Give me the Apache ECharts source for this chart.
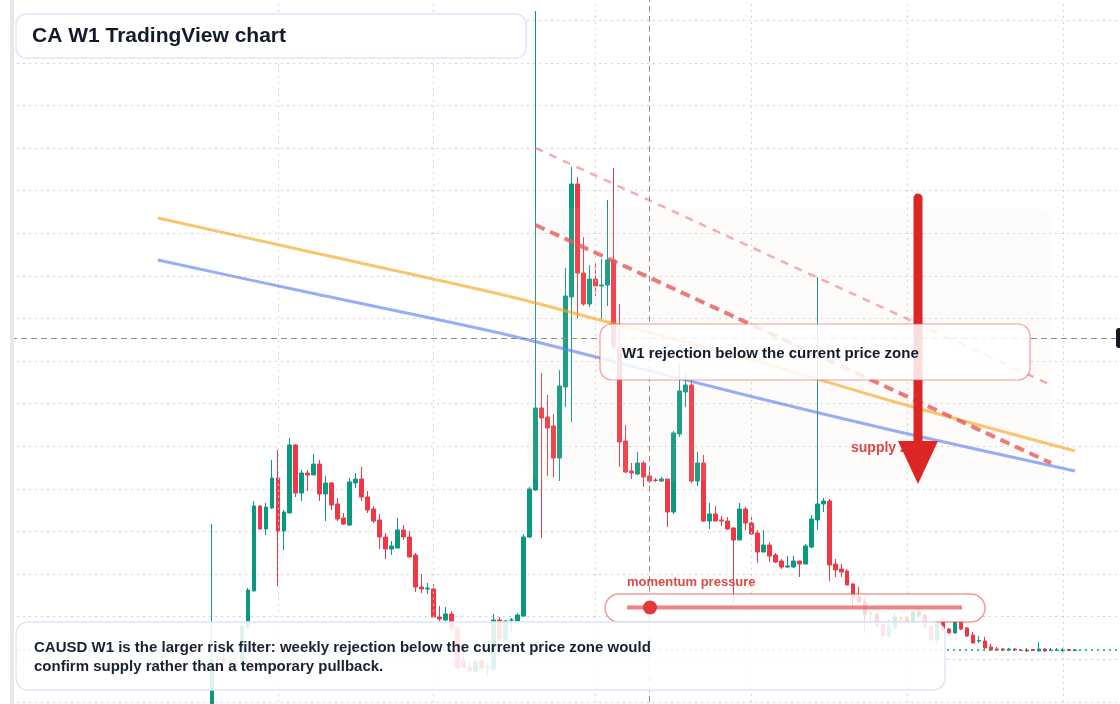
<!DOCTYPE html>
<html>
<head>
<meta charset="utf-8">
<script src="https://cdn.jsdelivr.net/npm/echarts@6.0.0/dist/echarts.min.js"></script>
<style>
  html, body { margin: 0; padding: 0; background: #ffffff; }
  #chart { width: 1120px; height: 704px; }
</style>
</head>
<body>
<div id="chart"></div>
<script>
// Weekly CAUSD candles
const open = [
  0.47, 1.27, 1.29, 1.25, 1.25, 1.22, 1.60, 1.96, 2.81, 2.58,
  2.79, 3.09, 2.56, 2.74, 3.42, 2.94, 3.14, 3.12, 3.23, 2.93,
  3.04, 2.83, 2.69, 2.62, 3.04, 3.08, 2.90, 2.78, 2.67, 2.50,
  2.38, 2.39, 2.57, 2.50, 2.32, 2.00, 1.98, 1.98, 1.70, 1.67,
  1.73, 1.59, 1.26, 1.20, 1.16, 1.26, 1.20, 1.18, 1.67, 1.48,
  1.67, 1.66, 1.71, 2.50, 2.97, 3.79, 3.70, 3.61, 3.29, 4.00,
  4.90, 6.03, 5.14, 4.83, 5.08, 5.01, 5.02, 5.27, 4.40, 3.46,
  3.16, 3.13, 3.24, 3.11, 3.07, 3.06, 3.08, 2.75, 3.53, 3.95,
  4.02, 3.06, 3.24, 2.66, 2.73, 2.67, 2.66, 2.59, 2.47, 2.78,
  2.64, 2.54, 2.35, 2.42, 2.32, 2.26, 2.20, 2.20, 2.26, 2.23,
  2.40, 2.67, 2.83, 2.86, 2.23, 2.18, 2.16, 2.03, 1.90, 1.85,
  1.74, 1.73, 1.63, 1.51, 1.59, 1.69, 1.70, 1.65, 1.75, 1.72,
  1.61, 1.47, 1.65, 1.58, 1.54, 1.65, 1.59, 1.52, 1.46, 1.46,
  1.40, 1.38, 1.38, 1.37, 1.38, 1.37, 1.37, 1.375, 1.36, 1.38,
  1.365, 1.365, 1.365, 1.375, 1.365
];
const close = [
  1.27, 1.28, 1.24, 1.25, 1.21, 1.61, 1.97, 2.81, 2.58, 2.80,
  3.09, 2.56, 2.75, 3.42, 2.94, 3.14, 3.12, 3.23, 2.93, 3.04,
  2.82, 2.68, 2.63, 3.05, 3.08, 2.90, 2.77, 2.66, 2.50, 2.38,
  2.41, 2.57, 2.50, 2.30, 2.00, 1.98, 1.99, 1.70, 1.68, 1.73,
  1.58, 1.19, 1.20, 1.16, 1.25, 1.19, 1.20, 1.67, 1.48, 1.66,
  1.67, 1.72, 2.50, 2.98, 3.79, 3.69, 3.59, 3.29, 4.01, 4.91,
  6.03, 5.14, 4.83, 5.08, 5.01, 5.02, 5.27, 4.40, 3.45, 3.15,
  3.14, 3.24, 3.10, 3.06, 3.065, 3.08, 2.75, 3.54, 3.96, 4.02,
  3.06, 3.24, 2.66, 2.73, 2.66, 2.66, 2.58, 2.47, 2.78, 2.64,
  2.53, 2.35, 2.42, 2.31, 2.25, 2.20, 2.21, 2.26, 2.23, 2.41,
  2.68, 2.83, 2.86, 2.22, 2.17, 2.15, 2.02, 1.90, 1.85, 1.72,
  1.74, 1.62, 1.51, 1.60, 1.70, 1.69, 1.65, 1.75, 1.71, 1.60,
  1.47, 1.64, 1.57, 1.54, 1.65, 1.58, 1.51, 1.44, 1.465, 1.39,
  1.37, 1.37, 1.37, 1.38, 1.37, 1.365, 1.36, 1.365, 1.38, 1.36,
  1.37, 1.37, 1.37, 1.365, 1.37
];
const low = [
  0.37, 1.22, 1.22, 1.21, 1.19, 1.21, 1.59, 1.96, 2.57, 2.52,
  2.78, 2.01, 2.37, 2.74, 2.90, 2.86, 2.96, 3.12, 2.86, 2.66,
  2.77, 2.66, 2.62, 2.61, 2.99, 2.86, 2.74, 2.64, 2.38, 2.28,
  2.32, 2.39, 2.47, 2.30, 1.95, 1.94, 1.93, 1.69, 1.65, 1.66,
  1.55, 1.17, 1.19, 1.15, 1.15, 1.18, 1.12, 1.17, 1.46, 1.47,
  1.55, 1.65, 1.70, 2.49, 2.96, 2.49, 3.11, 3.10, 3.06, 3.80,
  3.65, 4.69, 4.81, 4.80, 4.91, 4.68, 4.81, 4.37, 3.20, 3.14,
  3.08, 3.12, 3.00, 3.04, 3.05, 3.05, 2.60, 2.73, 3.50, 3.80,
  3.04, 3.01, 2.65, 2.58, 2.66, 2.61, 2.57, 1.84, 2.47, 2.57,
  2.52, 2.24, 2.35, 2.25, 2.24, 2.18, 2.19, 2.19, 2.10, 2.23,
  2.39, 2.57, 2.75, 2.06, 2.10, 2.10, 2.02, 1.79, 1.84, 1.54,
  1.67, 1.60, 1.50, 1.50, 1.58, 1.64, 1.64, 1.64, 1.70, 1.59,
  1.46, 1.43, 1.56, 1.54, 1.54, 1.57, 1.50, 1.44, 1.44, 1.38,
  1.36, 1.36, 1.36, 1.36, 1.36, 1.36, 1.35, 1.36, 1.36, 1.35,
  1.36, 1.36, 1.35, 1.36, 1.36
];
const high = [
  2.63, 1.32, 1.35, 1.31, 1.30, 1.63, 1.99, 2.86, 2.82, 2.84,
  3.27, 3.37, 2.77, 3.49, 3.43, 3.17, 3.17, 3.33, 3.27, 3.11,
  3.05, 2.89, 2.74, 3.09, 3.14, 3.20, 2.96, 2.81, 2.73, 2.54,
  2.46, 2.69, 2.62, 2.56, 2.34, 2.13, 2.04, 2.03, 1.81, 1.80,
  1.76, 1.62, 1.37, 1.26, 1.27, 1.28, 1.24, 1.73, 1.70, 1.67,
  1.69, 1.74, 2.53, 3.00, 7.76, 4.14, 3.92, 3.73, 4.17, 5.19,
  6.20, 6.10, 5.50, 5.22, 5.24, 5.28, 5.87, 6.19, 4.83, 3.62,
  3.24, 3.35, 3.26, 3.15, 3.09, 3.10, 3.08, 3.56, 4.24, 4.14,
  4.07, 3.35, 3.32, 2.84, 2.81, 2.71, 2.70, 2.60, 2.84, 2.80,
  2.70, 2.57, 2.57, 2.45, 2.34, 2.28, 2.31, 2.31, 2.26, 2.43,
  2.72, 5.10, 2.89, 2.88, 2.28, 2.23, 2.18, 2.04, 2.00, 1.90,
  1.75, 1.74, 1.65, 1.68, 1.74, 1.72, 1.71, 1.76, 1.82, 1.73,
  1.62, 1.67, 1.66, 1.59, 1.66, 1.66, 1.60, 1.55, 1.51, 1.50,
  1.43, 1.40, 1.39, 1.39, 1.39, 1.38, 1.39, 1.38, 1.45, 1.39,
  1.39, 1.39, 1.39, 1.38, 1.38
];

// week index of the first candle on the category axis
const firstWeek = 33;
const weekCount = 185;

// overlay averages: [week index, price]
const slowAvg = [[24, 5.69], [48, 5.37], [81, 4.93], [99, 4.65], [122, 4.29], [147, 3.85], [177, 3.36]];
const fastAvg = [[24, 5.27], [48, 4.96], [81, 4.54], [99, 4.27], [122, 3.92], [147, 3.56], [177, 3.16]];

// descending trend lines from the spike high
const upperTrend = [[87, 6.39], [173, 4.02]];
const lowerTrend = [[87, 5.62], [173, 3.24]];

// crosshair and half-year grid weeks
const crossWeek = 106;
const crossPrice = 4.49;
const gridWeeks = [44, 70, 97, 123, 149, 175];

const UP = '#089981';
const DOWN = '#f23645';
const FONT = '"Liberation Sans", Arial, sans-serif';

const weeks = [];
const start = Date.UTC(2021, 2, 1);
for (let i = 0; i < weekCount; i++) {
  weeks.push(new Date(start + i * 7 * 864e5).toISOString().slice(0, 10));
}

const candles = weeks.map((w, i) => {
  const k = i - firstWeek;
  return k >= 0 && k < open.length ? [open[k], close[k], low[k], high[k]] : '-';
});

const chart = echarts.init(document.getElementById('chart'));

chart.setOption({
  animation: false,
  backgroundColor: '#ffffff',
  grid: { left: 11, right: 0, top: 0, bottom: 2.2 },
  xAxis: {
    type: 'category',
    data: weeks,
    boundaryGap: true,
    axisLine: { show: false },
    axisTick: { show: false },
    axisLabel: { show: false },
    splitLine: { show: false }
  },
  yAxis: {
    type: 'value',
    min: 0.852,
    max: 7.87,
    interval: 0.426,
    axisLine: { show: false },
    axisTick: { show: false },
    axisLabel: { show: false },
    splitLine: {
      show: true,
      showMaxLine: false,
      lineStyle: { color: '#d4d4d4', type: [2, 4], width: 1 }
    }
  },
  series: [
    {
      // vertical grid lines
      type: 'line',
      data: [],
      z: 1,
      silent: true,
      markLine: {
        silent: true,
        symbol: 'none',
        label: { show: false },
        lineStyle: { color: '#d4d4d4', type: [2, 4], width: 1 },
        data: gridWeeks.map((i) => ({ xAxis: weeks[i] }))
      }
    },
    {
      type: 'candlestick',
      data: candles,
      barWidth: 4,
      clip: false,
      z: 2,
      itemStyle: {
        color: UP,
        color0: DOWN,
        borderColor: UP,
        borderColor0: DOWN,
        borderWidth: 1
      },
      markLine: {
        silent: true,
        symbol: 'none',
        label: { show: false },
        lineStyle: { color: UP, type: [2, 4], width: 1.5 },
        data: [{ yAxis: close[close.length - 1] }]
      }
    },
    {
      type: 'line',
      data: slowAvg,
      smooth: 0.3,
      symbol: 'none',
      silent: true,
      z: 5,
      lineStyle: { color: 'rgba(245,166,35,0.65)', width: 3 }
    },
    {
      type: 'line',
      data: fastAvg,
      smooth: 0.3,
      symbol: 'none',
      silent: true,
      z: 5,
      lineStyle: { color: 'rgba(96,130,240,0.65)', width: 3 }
    },
    {
      type: 'line',
      data: upperTrend,
      symbol: 'none',
      silent: true,
      z: 5,
      lineStyle: { color: 'rgba(240,140,140,0.7)', width: 2.5, type: [8, 7] }
    },
    {
      type: 'line',
      data: lowerTrend,
      symbol: 'none',
      silent: true,
      z: 5,
      lineStyle: { color: 'rgba(228,90,90,0.8)', width: 4, type: [10, 6] }
    },
    {
      // crosshair
      type: 'line',
      data: [],
      z: 6,
      silent: true,
      markLine: {
        silent: true,
        symbol: 'none',
        label: { show: false },
        lineStyle: { color: '#8c8c8c', type: [6, 4], width: 1 },
        data: [{ xAxis: weeks[crossWeek] }, { yAxis: crossPrice }]
      }
    }
  ],
  graphic: [
    // supply zone shading
    {
      type: 'rect', z: 3, silent: true,
      shape: { x: 527, y: 208, width: 525, height: 273, r: 16 },
      style: { fill: 'rgba(245,225,205,0.09)' }
    },
    // left pane edge
    {
      type: 'rect', z: 10, silent: true,
      shape: { x: 10, y: 0, width: 4, height: 704 },
      style: { fill: '#e8e8e8' }
    },
    // crosshair price label stub
    {
      type: 'rect', z: 10, silent: true,
      shape: { x: 1116, y: 328, width: 10, height: 20, r: 3 },
      style: { fill: '#131722' }
    },
    // title
    {
      type: 'rect', z: 100, silent: true,
      shape: { x: 16, y: 14, width: 510, height: 44, r: 10 },
      style: { fill: '#ffffff', stroke: '#dce7fa', lineWidth: 1.5 }
    },
    {
      type: 'text', z: 101, silent: true, x: 32, y: 36.5,
      style: { text: 'CA W1 TradingView chart', font: 'bold 21px ' + FONT, fill: '#131a2a', verticalAlign: 'middle' }
    },
    // supply zone label and arrow (under the callout box)
    {
      type: 'text', z: 85, silent: true, x: 851, y: 448,
      style: { text: 'supply zone', font: 'bold 14px ' + FONT, fill: '#e04848', verticalAlign: 'middle' }
    },
    {
      type: 'line', z: 90, silent: true,
      shape: { x1: 918, y1: 198, x2: 918, y2: 448 },
      style: { stroke: '#dc2626', lineWidth: 9, lineCap: 'round' }
    },
    {
      type: 'polygon', z: 90, silent: true,
      shape: { points: [[898, 441], [938, 441], [918, 484]] },
      style: { fill: '#dc2626' }
    },
    // W1 rejection callout
    {
      type: 'rect', z: 100, silent: true,
      shape: { x: 600, y: 324, width: 430, height: 56, r: 12 },
      style: { fill: 'rgba(255,255,255,0.85)', stroke: 'rgba(232,90,90,0.6)', lineWidth: 1.2 }
    },
    {
      type: 'text', z: 101, silent: true, x: 622, y: 354,
      style: { text: 'W1 rejection below the current price zone', font: 'bold 15px ' + FONT, fill: '#131a2a', verticalAlign: 'middle' }
    },
    // momentum pressure gauge
    {
      type: 'text', z: 101, silent: true, x: 627, y: 582,
      style: { text: 'momentum pressure', font: 'bold 13px ' + FONT, fill: '#e04848', verticalAlign: 'middle' }
    },
    {
      type: 'rect', z: 100, silent: true,
      shape: { x: 605, y: 594, width: 380, height: 28, r: 14 },
      style: { fill: 'rgba(255,255,255,0.8)', stroke: 'rgba(232,90,90,0.6)', lineWidth: 1.5 }
    },
    {
      type: 'line', z: 101, silent: true,
      shape: { x1: 627, y1: 607.5, x2: 962, y2: 607.5 },
      style: { stroke: 'rgba(232,90,90,0.75)', lineWidth: 4 }
    },
    {
      type: 'circle', z: 102, silent: true,
      shape: { cx: 650, cy: 607.5, r: 7 },
      style: { fill: '#e03a3a' }
    },
    // bottom note
    {
      type: 'rect', z: 100, silent: true,
      shape: { x: 16, y: 622, width: 929, height: 68, r: 12 },
      style: { fill: 'rgba(255,255,255,0.87)', stroke: '#dce7fa', lineWidth: 1.5 }
    },
    {
      type: 'text', z: 101, silent: true, x: 34, y: 648,
      style: { text: 'CAUSD W1 is the larger risk filter: weekly rejection below the current price zone would', font: 'bold 15px ' + FONT, fill: '#1a2232', verticalAlign: 'middle' }
    },
    {
      type: 'text', z: 101, silent: true, x: 34, y: 667,
      style: { text: 'confirm supply rather than a temporary pullback.', font: 'bold 15px ' + FONT, fill: '#1a2232', verticalAlign: 'middle' }
    }
  ]
});
</script>
</body>
</html>
